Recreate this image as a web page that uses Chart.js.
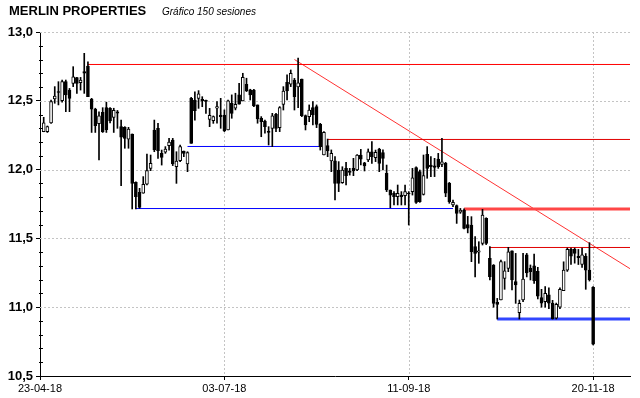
<!DOCTYPE html>
<html>
<head>
<meta charset="utf-8">
<script src="https://cdn.jsdelivr.net/npm/chart.js@4"></script>
<style>
  html, body { margin: 0; padding: 0; background: #fff; }
  #wrap { width: 640px; height: 398px; position: relative; }
</style>
</head>
<body>
<div id="wrap"><canvas id="chart"></canvas></div>
<script>
// Sessions 1..150 (23-04-18 is session 0, 20-11-18 is session 150)
const opens = [
  12.275, 12.275, 12.34, 12.513, 12.565, 12.501, 12.639, 12.578, 12.627, 12.668,
  12.632, 12.712, 12.753, 12.513, 12.44, 12.334, 12.416, 12.45, 12.446, 12.38,
  12.42, 12.312, 12.307, 12.222, 12.259, 11.907, 11.835, 11.828, 11.895, 12.009,
  12.288, 12.30, 12.118, 12.126, 12.174, 12.215, 12.021, 12.065, 12.135, 12.041,
  12.518, 12.506, 12.518, 12.51, 12.498, 12.365, 12.356, 12.446, 12.397, 12.397,
  12.288, 12.482, 12.446, 12.543, 12.499, 12.62, 12.579, 12.577, 12.47, 12.373,
  12.353, 12.275, 12.30, 12.402, 12.305, 12.474, 12.634, 12.62, 12.651, 12.60,
  12.658, 12.392, 12.385, 12.45, 12.458, 12.329, 12.106, 12.174, 12.063, 12.063,
  11.997, 11.905, 12.009, 11.99, 12.009, 11.997, 12.106, 12.05, 12.07, 12.13,
  12.087, 12.15, 12.123, 11.973, 11.852, 11.828, 11.803, 11.815, 11.81, 11.83,
  11.84, 12.014, 11.985, 11.82, 12.111, 12.033, 12.028, 12.077, 12.038, 12.045,
  11.90, 11.743, 11.738, 11.69, 11.706, 11.60, 11.597, 11.44, 11.40, 11.464,
  11.646, 11.355, 11.307, 11.035, 11.052, 11.21, 11.282, 11.41, 11.186, 10.96,
  11.052, 11.38, 11.282, 11.30, 11.26, 11.07, 11.04, 11.09, 11.03, 10.92,
  11.0, 11.12, 11.27, 11.42, 11.42, 11.37, 11.31, 11.37, 11.27, 11.144
];
const highs = [
  12.38, 12.317, 12.506, 12.603, 12.639, 12.65, 12.651, 12.59, 12.748, 12.67,
  12.67, 12.845, 12.784, 12.518, 12.446, 12.42, 12.45, 12.49, 12.45, 12.446,
  12.43, 12.36, 12.312, 12.307, 12.259, 11.912, 11.864, 11.949, 12.113, 12.106,
  12.36, 12.336, 12.142, 12.167, 12.227, 12.227, 12.13, 12.179, 12.135, 12.13,
  12.525, 12.566, 12.574, 12.53, 12.506, 12.445, 12.39, 12.494, 12.518, 12.434,
  12.506, 12.543, 12.555, 12.627, 12.70, 12.664, 12.584, 12.584, 12.47, 12.385,
  12.36, 12.312, 12.409, 12.409, 12.458, 12.603, 12.688, 12.724, 12.663, 12.81,
  12.658, 12.397, 12.47, 12.494, 12.47, 12.336, 12.276, 12.222, 12.143, 12.094,
  12.058, 12.021, 12.053, 12.009, 12.082, 12.11, 12.147, 12.053, 12.15, 12.203,
  12.142, 12.155, 12.143, 12.033, 11.852, 11.84, 11.888, 11.84, 11.888, 11.84,
  12.009, 12.021, 11.997, 12.106, 12.167, 12.094, 12.082, 12.118, 12.227, 12.053,
  11.907, 11.779, 11.743, 11.718, 11.714, 11.66, 11.658, 11.513, 11.476, 11.711,
  11.65, 11.44, 11.31, 11.064, 11.343, 11.331, 11.435, 11.41, 11.391, 11.052,
  11.391, 11.391, 11.307, 11.386, 11.29, 11.13, 11.15, 11.14, 11.05, 11.03,
  11.14, 11.33, 11.43, 11.43, 11.43, 11.42, 11.43, 11.39, 11.469, 11.149
];
const lows = [
  12.275, 12.27, 12.336, 12.482, 12.47, 12.49, 12.421, 12.421, 12.603, 12.554,
  12.578, 12.554, 12.53, 12.27, 12.27, 12.07, 12.27, 12.27, 12.34, 12.27,
  12.30, 11.883, 12.155, 12.155, 11.714, 11.714, 11.719, 11.828, 11.888, 11.992,
  12.13, 12.082, 12.033, 12.118, 12.142, 12.029, 11.90, 12.058, 12.094, 11.985,
  12.191, 12.36, 12.445, 12.457, 12.409, 12.312, 12.336, 12.337, 12.30, 12.276,
  12.288, 12.373, 12.434, 12.475, 12.499, 12.567, 12.506, 12.458, 12.337, 12.239,
  12.264, 12.179, 12.167, 12.276, 12.276, 12.433, 12.506, 12.603, 12.433, 12.45,
  12.385, 12.288, 12.348, 12.324, 12.305, 12.142, 12.106, 12.094, 11.985, 11.78,
  11.84, 11.90, 11.888, 11.96, 11.956, 11.992, 12.034, 11.99, 12.058, 12.045,
  12.058, 11.985, 11.997, 11.84, 11.723, 11.743, 11.743, 11.743, 11.743, 11.597,
  11.815, 11.755, 11.762, 11.815, 11.937, 11.949, 11.949, 12.009, 12.021, 11.803,
  11.755, 11.731, 11.609, 11.682, 11.568, 11.54, 11.331, 11.22, 11.319, 11.452,
  11.455, 11.198, 11.0, 10.914, 11.052, 11.13, 11.258, 11.125, 11.028, 10.914,
  11.04, 11.22, 11.198, 11.173, 11.06, 11.0, 11.0, 10.99, 10.914, 10.914,
  10.99, 11.12, 11.26, 11.31, 11.32, 11.31, 11.29, 11.13, 11.19, 10.725
];
const closes = [
  12.34, 12.312, 12.494, 12.535, 12.56, 12.639, 12.542, 12.518, 12.675, 12.627,
  12.651, 12.70, 12.53, 12.44, 12.32, 12.39, 12.276, 12.29, 12.354, 12.43,
  12.41, 12.235, 12.227, 12.295, 11.90, 11.803, 11.726, 11.893, 11.992, 12.046,
  12.143, 12.138, 12.089, 12.15, 12.20, 12.041, 12.062, 12.167, 12.118, 12.123,
  12.191, 12.428, 12.55, 12.50, 12.496, 12.394, 12.385, 12.458, 12.385, 12.281,
  12.499, 12.409, 12.475, 12.475, 12.671, 12.572, 12.543, 12.463, 12.368, 12.348,
  12.312, 12.27, 12.39, 12.30, 12.45, 12.571, 12.571, 12.70, 12.53, 12.63,
  12.392, 12.324, 12.433, 12.397, 12.329, 12.167, 12.27, 12.135, 12.118, 11.90,
  11.90, 11.997, 11.956, 11.98, 11.99, 12.106, 12.075, 12.026, 12.13, 12.094,
  12.126, 12.045, 12.082, 11.852, 11.815, 11.803, 11.828, 11.803, 11.84, 11.823,
  11.941, 11.762, 11.767, 11.956, 12.009, 12.021, 12.016, 12.021, 12.057, 11.828,
  11.767, 11.762, 11.682, 11.706, 11.573, 11.575, 11.404, 11.391, 11.41, 11.67,
  11.464, 11.222, 11.028, 11.021, 11.331, 11.265, 11.403, 11.198, 11.162, 11.028,
  11.205, 11.25, 11.258, 11.193, 11.08, 11.03, 11.10, 11.03, 10.914, 11.02,
  11.13, 11.27, 11.42, 11.37, 11.39, 11.36, 11.38, 11.27, 11.20, 10.732
];

const dateTicks = [0, 50, 100, 150];
const dateLabels = ['23-04-18', '03-07-18', '11-09-18', '20-11-18'];
const priceTicks = [10.5, 11.0, 11.5, 12.0, 12.5, 13.0];

// horizontal support / resistance lines: first session, last session, price
const levelFrom = [13, 40, 26, 78, 115, 122, 124];
const levelTo = [160, 76, 112, 160, 160, 160, 160];
const levelPrice = [12.764, 12.168, 11.717, 12.219, 11.714, 11.434, 10.914];

// falling trend line
const trendX = [69, 160];
const trendY = [12.80, 11.28];

const levelStyles = [
  { color: '#ff0000', width: 1 },
  { color: '#0000ff', width: 1 },
  { color: '#0000ff', width: 1 },
  { color: '#e00000', width: 1 },
  { color: 'rgb(255,70,70)', width: 3 },
  { color: '#e00000', width: 1 },
  { color: 'rgb(50,70,255)', width: 3 }
];

const wickData = opens.map((o, i) => ({ x: i + 1, y: [lows[i], highs[i]] }));
const bodyData = opens.map((o, i) => ({ x: i + 1, y: [Math.min(o, closes[i]), Math.max(o, closes[i])] }));
const bodyColors = opens.map((o, i) => closes[i] >= o ? '#ffffff' : '#000000');

const datasets = [];

levelPrice.forEach((p, i) => {
  datasets.push({
    type: 'line',
    data: [{ x: levelFrom[i], y: p }, { x: levelTo[i], y: p }],
    borderColor: levelStyles[i].color,
    borderWidth: levelStyles[i].width,
    pointRadius: 0,
    order: 3
  });
});

datasets.push({
  type: 'line',
  data: trendX.map((x, i) => ({ x: x, y: trendY[i] })),
  borderColor: 'rgb(255,50,50)',
  borderWidth: 1,
  pointRadius: 0,
  order: 3
});

datasets.push({
  type: 'bar',
  data: wickData,
  backgroundColor: '#000',
  barThickness: 1,
  grouped: false,
  order: 2
});

datasets.push({
  type: 'bar',
  data: bodyData,
  backgroundColor: bodyColors,
  borderColor: '#000',
  borderWidth: 1,
  borderSkipped: false,
  barThickness: 3,
  minBarLength: 1,
  grouped: false,
  order: 1
});

const decor = {
  id: 'decor',
  beforeDatasetsDraw(chart) {
    const { ctx, chartArea: a, scales: { x, y } } = chart;
    ctx.save();
    ctx.strokeStyle = '#c4c4c4';
    ctx.lineWidth = 1;
    ctx.setLineDash([2, 2]);
    priceTicks.forEach(v => {
      if (v === priceTicks[0]) return;
      const py = Math.round(y.getPixelForValue(v)) + 0.5;
      ctx.beginPath();
      ctx.moveTo(a.left, py);
      ctx.lineTo(a.right, py);
      ctx.stroke();
    });
    dateTicks.forEach(v => {
      if (v === dateTicks[0]) return;
      const px = Math.round(x.getPixelForValue(v)) + 0.5;
      ctx.beginPath();
      ctx.moveTo(px, a.top);
      ctx.lineTo(px, a.bottom);
      ctx.stroke();
    });
    ctx.restore();
  },
  afterDraw(chart) {
    const { ctx, chartArea: a, scales: { y } } = chart;
    ctx.save();
    // minor ticks on the price axis
    ctx.strokeStyle = '#000';
    ctx.lineWidth = 1;
    for (let k = 105; k <= 130; k++) {
      if (k % 5 === 0) continue;
      const py = Math.round(y.getPixelForValue(k / 10)) + 0.5;
      ctx.beginPath();
      ctx.moveTo(a.left - 1, py);
      ctx.lineTo(a.left + 3, py);
      ctx.stroke();
    }
    // title
    ctx.fillStyle = '#000';
    ctx.textBaseline = 'alphabetic';
    ctx.font = 'bold 13px "Liberation Sans", Arial, sans-serif';
    ctx.fillText('MERLIN PROPERTIES', 9, 15);
    ctx.font = 'italic 10px "Liberation Sans", Arial, sans-serif';
    ctx.fillText('Gráfico 150 sesiones', 162, 15);
    ctx.restore();
  }
};

new Chart(document.getElementById('chart'), {
  type: 'bar',
  data: { datasets: datasets },
  options: {
    responsive: true,
    maintainAspectRatio: false,
    animation: false,
    layout: { padding: { top: 32, right: 10, left: 0, bottom: 0 } },
    plugins: {
      legend: { display: false },
      tooltip: { enabled: false }
    },
    scales: {
      x: {
        type: 'linear',
        min: 0,
        max: 160,
        offset: false,
        afterBuildTicks: s => { s.ticks = dateTicks.map(v => ({ value: v })); },
        afterFit: s => { s.height = 22; },
        ticks: {
          autoSkip: false,
          maxRotation: 0,
          padding: 2,
          color: '#000',
          font: { family: '"Liberation Sans", Arial, sans-serif', size: 11 },
          callback: v => dateLabels[dateTicks.indexOf(v)]
        },
        grid: { drawOnChartArea: false, drawTicks: true, tickLength: 4, color: '#000', offset: false },
        border: { color: '#000', width: 1 }
      },
      y: {
        type: 'linear',
        min: 10.5,
        max: 13,
        afterBuildTicks: s => { s.ticks = priceTicks.map(v => ({ value: v })); },
        afterFit: s => { s.width = 40; },
        ticks: {
          padding: 3,
          color: '#000',
          font: { family: '"Liberation Sans", Arial, sans-serif', size: 13, weight: 'bold' },
          callback: v => v.toFixed(1).replace('.', ',')
        },
        grid: { drawOnChartArea: false, drawTicks: true, tickLength: 4, color: '#000' },
        border: { color: '#000', width: 1 }
      }
    }
  },
  plugins: [decor]
});
</script>
</body>
</html>
